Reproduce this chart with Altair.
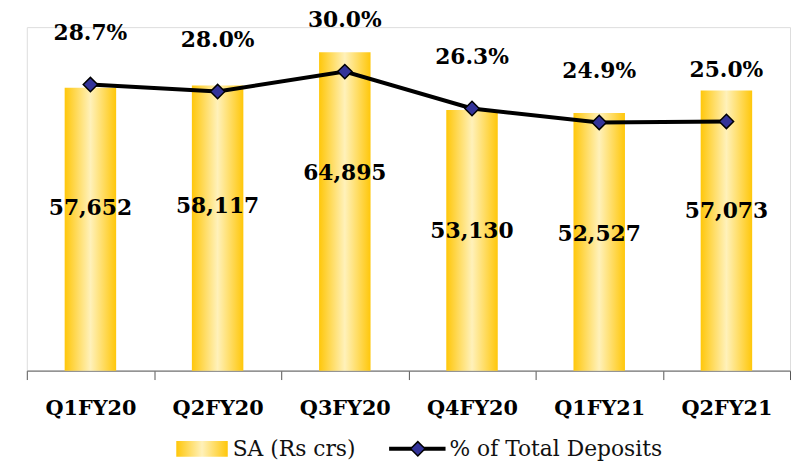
import altair as alt
import pandas as pd

quarters = ["Q1FY20", "Q2FY20", "Q3FY20", "Q4FY20", "Q1FY21", "Q2FY21"]
sa_values = [57652, 58117, 64895, 53130, 52527, 57073]
pct_values = [28.7, 28.0, 30.0, 26.3, 24.9, 25.0]
legend_labels = ["SA (Rs crs)", "% of Total Deposits"]

df = pd.DataFrame({"q": quarters, "sa": sa_values, "pct": pct_values})

FONT = "DejaVu Serif"
W, H = 771, 347

gold = alt.Gradient(
    gradient="linear", x1=0, x2=1, y1=0, y2=0,
    stops=[
        alt.GradientStop(color="#FFC70A", offset=0),
        alt.GradientStop(color="#FFF1BA", offset=0.5),
        alt.GradientStop(color="#FFC70A", offset=1),
    ],
)

xenc = alt.X(
    "q:N", sort=quarters, title=None,
    scale=alt.Scale(paddingInner=0, paddingOuter=0),
    axis=alt.Axis(
        labelAngle=0, labelFont=FONT, labelFontSize=21, labelFontWeight="bold",
        labelColor="#000000", labelPadding=18, tickBand="extent", tickSize=9,
        tickColor="#555555", domainColor="#777777", domainWidth=1.2, grid=False,
    ),
)

base = alt.Chart(df)

ysa = alt.Y("sa:Q", scale=alt.Scale(domain=[0, 70000]), axis=None)
bars = base.mark_bar(fill=gold, size=52).encode(x=xenc, y=ysa)
bar_text = base.mark_text(
    font=FONT, fontSize=22, fontWeight="bold", dy=122, baseline="middle", color="#000000"
).encode(x=xenc, y=ysa, text=alt.Text("sa:Q", format=",d"))
bar_layer = alt.layer(bars, bar_text)

ypct = alt.Y("pct:Q", scale=alt.Scale(domain=[0, 34.46]), axis=None)
line = base.mark_line(color="#000000", strokeWidth=4).encode(x=xenc, y=ypct)
pts = base.mark_point(
    shape="diamond", size=210, filled=True, fill="#333399", stroke="#000000",
    strokeWidth=1.5, opacity=1
).encode(x=xenc, y=ypct)
pct_text = base.transform_calculate(
    lbl="format(datum.pct, '.1f') + '%'"
).mark_text(
    font=FONT, fontSize=22, fontWeight="bold", dy=-52, baseline="middle", color="#000000"
).encode(x=xenc, y=ypct, text="lbl:N")
line_layer = alt.layer(line, pts, pct_text)

main = alt.layer(bar_layer, line_layer).resolve_scale(y="independent")

LY = 426
leg = alt.Chart(pd.DataFrame({"label": legend_labels}))
leg_rect = leg.transform_filter(alt.datum.label == legend_labels[0]).mark_rect(fill=gold).encode(
    x=alt.value(151), x2=alt.value(203), y=alt.value(LY - 8), y2=alt.value(LY + 8)
)
leg_text1 = leg.transform_filter(alt.datum.label == legend_labels[0]).mark_text(
    font=FONT, fontSize=22, align="left", baseline="middle", color="#111111"
).encode(x=alt.value(208), y=alt.value(LY), text="label:N")
leg_rule = leg.transform_filter(alt.datum.label == legend_labels[1]).mark_rule(
    color="#000000", strokeWidth=4
).encode(x=alt.value(366), x2=alt.value(423), y=alt.value(LY))
leg_pt = leg.transform_filter(alt.datum.label == legend_labels[1]).mark_point(
    shape="diamond", size=210, filled=True, fill="#333399", stroke="#000000",
    strokeWidth=1.5, opacity=1
).encode(x=alt.value(395), y=alt.value(LY))
leg_text2 = leg.transform_filter(alt.datum.label == legend_labels[1]).mark_text(
    font=FONT, fontSize=22, align="left", baseline="middle", color="#111111"
).encode(x=alt.value(427), y=alt.value(LY), text="label:N")

chart = alt.layer(main, leg_rect, leg_text1, leg_rule, leg_pt, leg_text2).properties(
    width=W, height=H,
    autosize=alt.AutoSizeParams(type="none"),
    padding={"left": 19, "top": 17, "right": 2, "bottom": 94},
).configure_view(stroke=None).configure(background="#FFFFFF")

chart.save("out.html", embed_options={"renderer": "svg", "actions": False})
